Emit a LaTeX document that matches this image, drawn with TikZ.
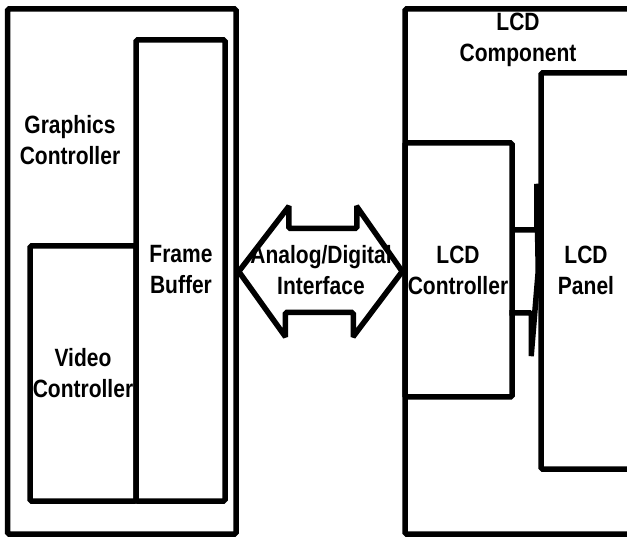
\documentclass[tikz,border=0pt]{standalone}
\usepackage{fontspec}
\setmainfont{Liberation Sans}[FakeStretch=0.84]
\usetikzlibrary{positioning,fit,calc}

\tikzset{
  blk/.style={draw, line width=5.5pt, rounded corners=1.5pt, inner sep=0pt},
  lbl/.style={align=center, font=\fontsize{25}{31}\selectfont\bfseries, inner sep=0pt}
}

\begin{document}
\begin{tikzpicture}[x=1pt, y=-1pt]
\useasboundingbox (0,0) rectangle (627,537);
    % graphics side
\node[blk, fit={(7.5,9) (236,534)}] (gfxctrl) {};
\node[blk, fit={(136,40) (225,501)}] (framebuf) {};
\node[blk, fit={(30,246) (136,501)}] (videoctrl) {};
    % lcd side
\node[blk, fit={(405,9) (645,534)}] (lcdcomp) {};
\node[blk, fit={(405,143) (512,397)}] (lcdctrl) {};
\node[blk, fit={(541,73) (645,469)}] (lcdpanel) {};
    % interface arrow
\draw[blk, line join=miter] (gfxctrl.east) -- ++(50,-65) -- ++(0,22) -- ++(68,0) -- ++(0,-22)
  -- (lcdcomp.west) -- ++(-49,65) -- ++(0,-24) -- ++(-68,0) -- ++(0,24) -- cycle;
\draw[blk] ($(lcdctrl.east)+(0,-40)$) -- ++(22,0) -- ++(0,-45) -- (lcdpanel.west)
  -- ++(-7,84) -- ++(0,-42) -- ++(-22,0);
    % labels
\node[lbl] (gfxtxt) at (70,140) {Graphics\\Controller};
\node[lbl] (fbtxt) at (181,270) {Frame\\Buffer};
\node[lbl] (vidtxt) at (83,373) {Video\\Controller};
\node[lbl] (iftxt) at (321,270) {Analog/Digital\\Interface};
\node[lbl] (ctrltxt) at (458,270) {LCD\\Controller};
\node[lbl] (paneltxt) at (586,270) {LCD\\Panel};
\node[lbl] (comptxt) at (518,40) {LCD\\Component};
\end{tikzpicture}
\end{document}
